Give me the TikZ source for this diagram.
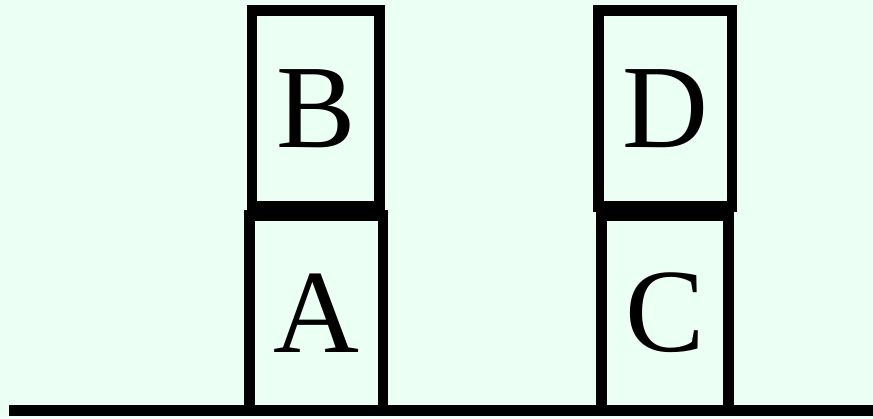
\documentclass[tikz,border=0pt]{standalone}
\usepackage{fontspec}
\setmainfont{Liberation Serif}
\definecolor{bgmint}{RGB}{235,255,245}
\begin{document}
\begin{tikzpicture}[x=1pt,y=-1pt,
  block/.style={draw=black, line width=10.7pt, rectangle, inner sep=0pt, outer sep=0pt,
    font=\fontsize{119}{119}\selectfont, text=black}]
\fill[bgmint] (0,0) rectangle (873,418);
\useasboundingbox (0,0) rectangle (873,418);
\node[block, minimum width=127.7pt, minimum height=196pt] (B) at (315.85,108.7) {B};
\node[block, minimum width=133.7pt, minimum height=195pt] (A) at (316.15,312.8) {A};
\node[block, minimum width=133.3pt, minimum height=196pt] (D) at (665.35,108.7) {D};
\node[block, minimum width=127.4pt, minimum height=195pt] (C) at (665,312.8) {C};
\coordinate (g1) at (9,410.7);
\coordinate (g2) at (873,410.7);
\draw[line width=10.7pt] (g1) -- (g2);
\end{tikzpicture}
\end{document}
